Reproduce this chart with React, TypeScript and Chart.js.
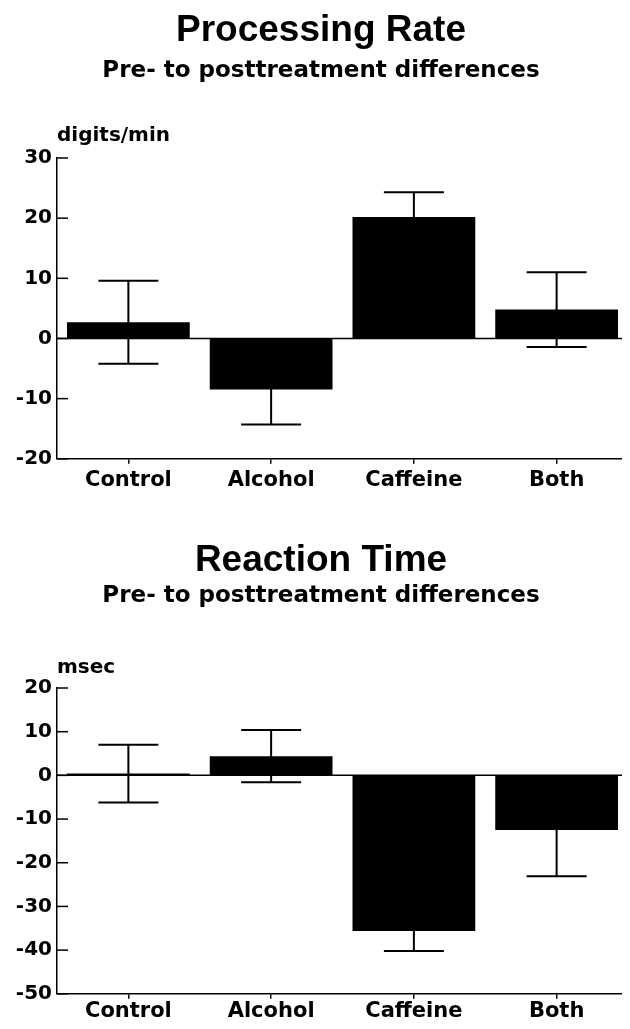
import React, { useEffect, useRef } from 'react';
import { Chart, registerables } from 'chart.js';

Chart.register(...registerables);

const categories = ['Control', 'Alcohol', 'Caffeine', 'Both'];

const rateMeans = [2.7, -8.5, 20.2, 4.8];
const rateErrors = [6.9, 5.8, 4.1, 6.2];
const rateTicks = [30, 20, 10, 0, -10, -20];

const rtMeans = [0.4, 4.4, -35.6, -12.5];
const rtErrors = [6.6, 6.0, 4.6, 10.6];
const rtTicks = [20, 10, 0, -10, -20, -30, -40, -50];

const HEAVY = '"DejaVu Sans", "Liberation Sans", Arial, sans-serif';
const TITLE_FONT = '"Liberation Sans", Arial, Helvetica, sans-serif';

const decorPlugin = {
  id: 'decor',
  beforeDatasetsDraw(chart: any) {
    const { ctx, chartArea, scales } = chart;
    const y0 = scales.y.getPixelForValue(0);
    ctx.save();
    ctx.strokeStyle = '#000';
    ctx.lineWidth = 1.5;
    ctx.beginPath();
    ctx.moveTo(chartArea.left, y0);
    ctx.lineTo(chartArea.right, y0);
    ctx.stroke();
    ctx.restore();
  },
  afterDatasetsDraw(chart: any, _args: any, opts: any) {
    const { ctx, chartArea, scales } = chart;
    const xs = scales.x;
    const ys = scales.y;
    const means: number[] = chart.data.datasets[0].data;
    const errs: number[] = opts.errors || [];
    ctx.save();
    ctx.strokeStyle = '#000';
    ctx.lineWidth = 2;
    means.forEach((m, i) => {
      const e = errs[i];
      if (e == null) return;
      const x = xs.getPixelForValue(i);
      const yt = ys.getPixelForValue(m + e);
      const yb = ys.getPixelForValue(m - e);
      ctx.beginPath();
      ctx.moveTo(x, yt);
      ctx.lineTo(x, yb);
      ctx.moveTo(x - 30, yt);
      ctx.lineTo(x + 30, yt);
      ctx.moveTo(x - 30, yb);
      ctx.lineTo(x + 30, yb);
      ctx.stroke();
    });
    // inward y ticks
    ctx.lineWidth = 1.5;
    ys.ticks.forEach((t: any) => {
      const y = ys.getPixelForValue(t.value);
      ctx.beginPath();
      ctx.moveTo(chartArea.left, y);
      ctx.lineTo(chartArea.left + 11, y);
      ctx.stroke();
    });
    // unit label
    if (opts.unit) {
      ctx.fillStyle = '#000';
      ctx.font = 'bold 20px ' + HEAVY;
      ctx.textAlign = 'left';
      ctx.textBaseline = 'alphabetic';
      ctx.fillText(opts.unit, chartArea.left, chartArea.top + (opts.unitDy || -15));
    }
    ctx.restore();
  },
};

function makeConfig(
  title: string,
  subtitle: string,
  unit: string,
  means: number[],
  errors: number[],
  ticks: number[],
  pad: { titleTop: number; subTop: number; subBottom: number; bottom: number; tickPad: number; unitDy: number }
): any {
  const minV = Math.min(...ticks);
  const maxV = Math.max(...ticks);
  return {
    type: 'bar',
    data: {
      labels: categories,
      datasets: [
        {
          data: means,
          backgroundColor: '#000',
          borderWidth: 0,
          barPercentage: 0.86,
          categoryPercentage: 1,
        },
      ],
    },
    plugins: [decorPlugin],
    options: {
      responsive: false,
      animation: false,
      layout: { padding: { left: 14, right: 2, top: 0, bottom: pad.bottom } },
      plugins: {
        legend: { display: false },
        tooltip: { enabled: false },
        title: {
          display: true,
          text: title,
          color: '#000',
          font: { family: TITLE_FONT, size: 37, weight: 'bold', lineHeight: 1 },
          padding: { top: pad.titleTop, bottom: 0 },
        },
        subtitle: {
          display: true,
          text: subtitle,
          color: '#000',
          font: { family: HEAVY, size: 23, weight: 'bold', lineHeight: 1 },
          padding: { top: pad.subTop, bottom: pad.subBottom },
        },
        decor: { errors, unit, unitDy: pad.unitDy },
      },
      scales: {
        x: {
          type: 'category',
          offset: true,
          grid: {
            display: true,
            drawOnChartArea: false,
            drawTicks: true,
            tickLength: 5,
            offset: false,
            color: '#000',
            lineWidth: 1.5,
          },
          border: { display: true, color: '#000', width: 1.5 },
          ticks: {
            color: '#000',
            padding: pad.tickPad,
            maxRotation: 0,
            font: { family: HEAVY, size: 21, weight: 'bold', lineHeight: 1.2 },
          },
        },
        y: {
          type: 'linear',
          min: minV,
          max: maxV,
          afterBuildTicks: (scale: any) => {
            scale.ticks = ticks.map((v) => ({ value: v }));
          },
          afterFit: (scale: any) => {
            scale.width = 43;
          },
          grid: { display: false, drawTicks: false },
          border: { display: true, color: '#000', width: 1.5 },
          ticks: {
            color: '#000',
            padding: 5,
            font: { family: HEAVY, size: 20, weight: 'bold' },
          },
        },
      },
    },
  };
}

function BarPanel(props: { config: any; height: number }) {
  const ref = useRef<HTMLCanvasElement | null>(null);
  useEffect(() => {
    if (!ref.current) return;
    const chart = new Chart(ref.current, props.config);
    return () => chart.destroy();
  }, []);
  return <canvas ref={ref} width={630} height={props.height} style={{ display: 'block' }} />;
}

export default function App() {
  const cfg1 = makeConfig(
    'Processing Rate',
    'Pre- to posttreatment differences',
    'digits/min',
    rateMeans,
    rateErrors,
    rateTicks,
    { titleTop: 12, subTop: 11, subBottom: 75, bottom: 18, tickPad: 4, unitDy: -17 }
  );
  const cfg2 = makeConfig(
    'Reaction Time',
    'Pre- to posttreatment differences',
    'msec',
    rtMeans,
    rtErrors,
    rtTicks,
    { titleTop: 27, subTop: 6, subBottom: 80, bottom: 5, tickPad: 0, unitDy: -15 }
  );
  return (
    <div style={{ margin: '-8px', width: 630, background: '#fff' }}>
      <BarPanel config={cfg1} height={515} />
      <BarPanel config={cfg2} height={514} />
    </div>
  );
}
